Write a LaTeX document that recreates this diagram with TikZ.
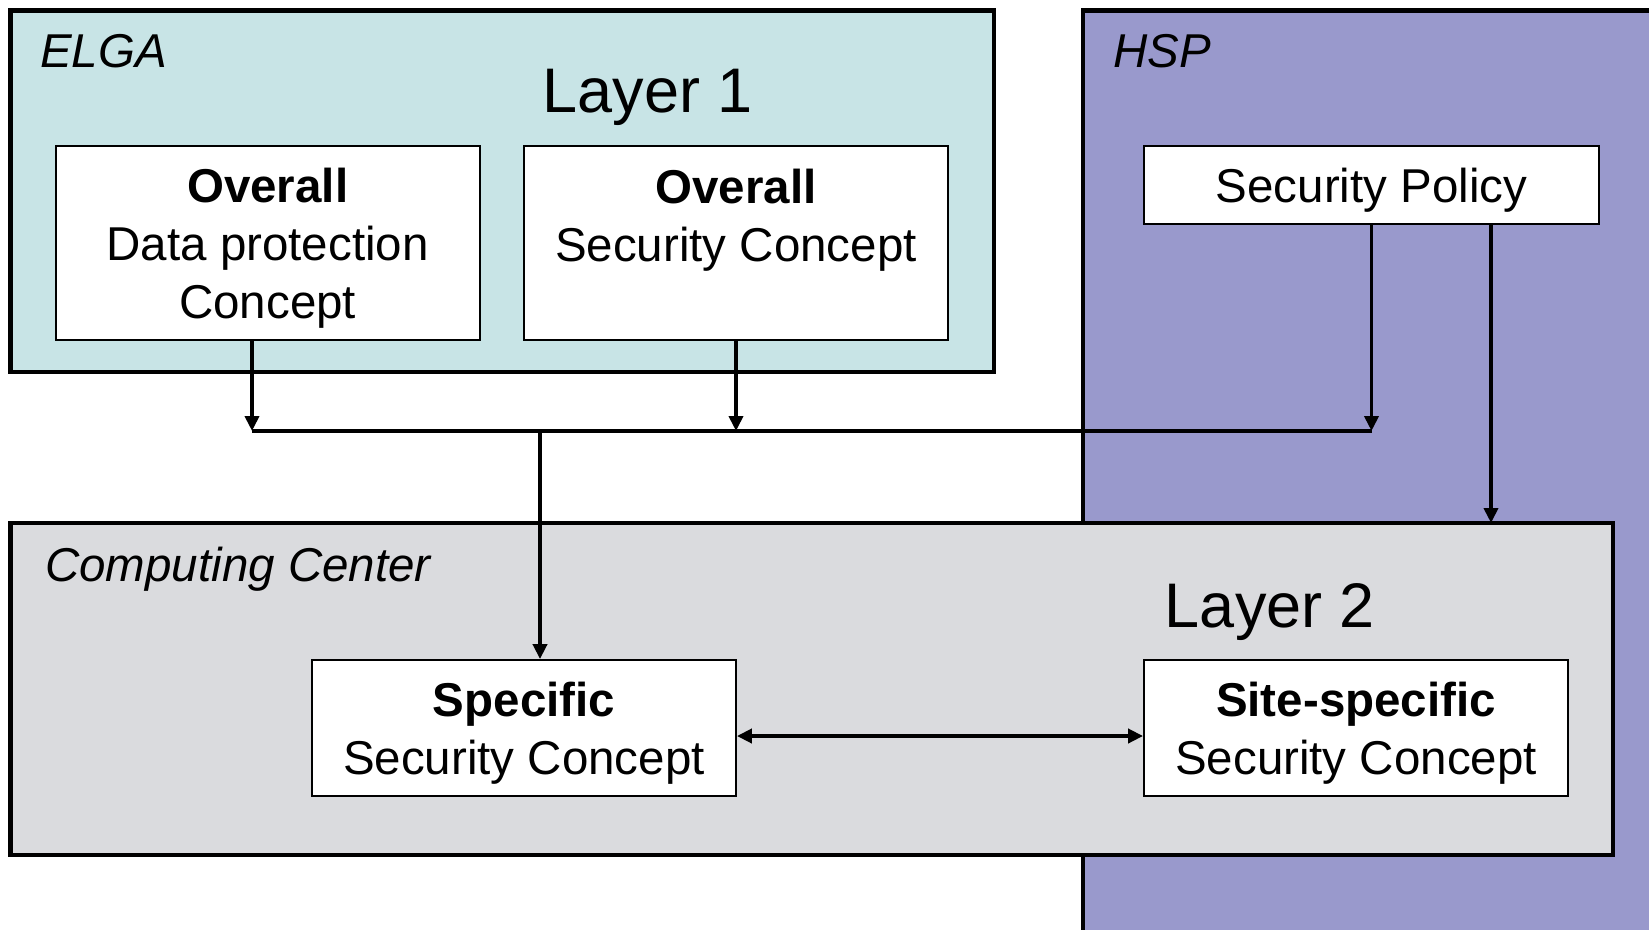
\documentclass[tikz,border=0pt]{standalone}
\usepackage{fontspec}
\setmainfont{Liberation Sans}
\usetikzlibrary{arrows.meta}
\definecolor{elgafill}{RGB}{200,228,230}
\definecolor{hspfill}{RGB}{153,153,204}
\definecolor{ccfill}{RGB}{218,219,222}
\begin{document}
\begin{tikzpicture}[x=1pt,y=-1pt,
  region/.style={draw=black, line width=4.5pt},
  box/.style={draw=black, fill=white, line width=1.8pt, inner sep=0pt},
  boxtext/.style={inner sep=0pt, align=center, font=\fontsize{47.5}{58}\selectfont},
  lbl/.style={font=\fontsize{47.5}{56}\selectfont\itshape, anchor=base west, inner sep=0pt},
  layer/.style={font=\fontsize{63}{70}\selectfont, anchor=base, inner sep=0pt},
  conn/.style={line width=3.8pt},
  arr/.style={conn, -{Triangle[length=15pt,width=14pt]}},
  dbl/.style={conn, {Triangle[length=15pt,width=14pt]}-{Triangle[length=15pt,width=14pt]}},
]
\clip (0,0) rectangle (1649,929);
\fill[white] (0,0) rectangle (1649,929);
% regions
\draw[region, fill=hspfill] (1083,10.5) rectangle (1700,1000);
\draw[region, fill=elgafill] (10.5,10.5) rectangle (994,372);
\draw[region, fill=ccfill] (10.5,523) rectangle (1613,855);
% region labels
\node[lbl] (elga) at (40,67) {ELGA};
\node[lbl] (hsp) at (1113,67) {HSP};
\node[lbl] (cc) at (45,581) {Computing Center};
\node[layer] (l1) at (648,112) {Layer 1};
\node[layer] (l2) at (1270,627) {Layer 2};
% boxes
\node[box, minimum width=424pt, minimum height=194pt] (b1) at (267.7,243) {};
\node[box, minimum width=424pt, minimum height=194pt] (b2) at (736,243) {};
\node[box, minimum width=455pt, minimum height=78pt] (sp) at (1371.5,185) {};
\node[box, minimum width=424pt, minimum height=136pt] (spec) at (524,728) {};
\node[box, minimum width=424pt, minimum height=136pt] (site) at (1356,728) {};
% box texts
\node[boxtext] (b1t) at ([yshift=-5pt]b1.center) {\textbf{Overall}\\Data protection\\Concept};
\node[boxtext, anchor=north] (b2t) at ([yshift=-23.5pt]b2.north) {\textbf{Overall}\\Security Concept};
\node[boxtext] (spt) at ([yshift=-5pt]sp.center) {Security Policy};
\node[boxtext] (spect) at ([yshift=-5pt]spec.center) {\textbf{Specific}\\Security Concept};
\node[boxtext] (sitet) at ([yshift=-5pt]site.center) {\textbf{Site-specific}\\Security Concept};
% connectors
\coordinate (busL) at (252,431);
\coordinate (busR) at (1371.5,431);
\coordinate (busM) at (540,431);
\coordinate (ccTop) at (1491,523);
\draw[conn] (busL) -- (busR);
\draw[arr] (b1.south -| busL) -- (busL);
\draw[arr] (b2.south) -- (b2.south |- busL);
\draw[arr] (sp.south) -- (busR);
\draw[arr] (sp.south -| ccTop) -- (ccTop);
\draw[arr] (busM) -- (busM |- spec.north);
\draw[dbl] ([yshift=-8pt]spec.east) -- ([yshift=-8pt]site.west);
\end{tikzpicture}
\end{document}
